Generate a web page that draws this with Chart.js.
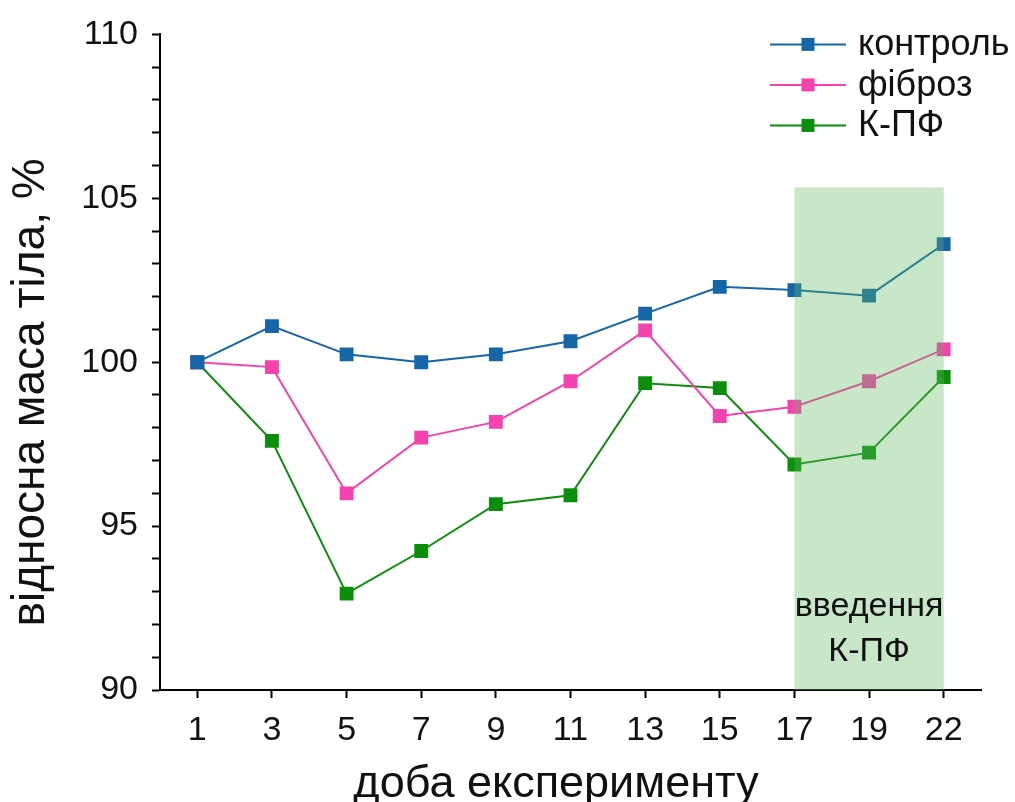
<!DOCTYPE html>
<html>
<head>
<meta charset="utf-8">
<script src="https://cdn.jsdelivr.net/npm/chart.js@4"></script>
<style>
  html, body { margin: 0; padding: 0; background: #fff; }
  #wrap { width: 1015px; height: 802px; }
</style>
</head>
<body>
<div id="wrap"><canvas id="chart"></canvas></div>
<script>
// days of the experiment
const days = ['1', '3', '5', '7', '9', '11', '13', '15', '17', '19', '22'];

// relative body mass, %
const control = [100, 101.1, 100.24, 100, 100.24, 100.64, 101.48, 102.3, 102.2, 102.03, 103.6];
const fibrosis = [100, 99.85, 96.0, 97.7, 98.18, 99.42, 100.97, 98.36, 98.64, 99.42, 100.39];
const kpf = [100, 97.6, 92.94, 94.24, 95.67, 95.94, 99.36, 99.21, 96.88, 97.24, 99.55];

// treatment period band
const bandFrom = '17';
const bandTo = '22';
const bandTop = 105.33;
const bandText = ['введення', 'К-ПФ'];

const xTitle = 'доба експерименту';
const yTitle = 'відносна маса тіла, %';

const FONT = '"Liberation Sans", Arial, sans-serif';

function series(label, data, color) {
  return {
    label,
    data,
    borderColor: color,
    backgroundColor: color,
    borderWidth: 2,
    pointStyle: 'rect',
    pointRadius: 9.8,
    pointBorderWidth: 0,
    pointBackgroundColor: color,
    tension: 0
  };
}

// shaded band drawn over the lines, with its caption
const bandPlugin = {
  id: 'band',
  afterDatasetsDraw(chart) {
    const { ctx, scales: { x, y } } = chart;
    const x0 = x.getPixelForValue(days.indexOf(bandFrom));
    const x1 = x.getPixelForValue(days.indexOf(bandTo));
    const y0 = y.getPixelForValue(bandTop);
    const y1 = y.getPixelForValue(y.min);
    ctx.save();
    ctx.fillStyle = 'rgba(97,183,97,0.35)';
    ctx.fillRect(x0, y0, x1 - x0, y1 - y0);
    ctx.fillStyle = '#111';
    ctx.font = '34px ' + FONT;
    ctx.textAlign = 'center';
    ctx.textBaseline = 'middle';
    const cx = (x0 + x1) / 2;
    ctx.fillText(bandText[0], cx, y1 - 83);
    ctx.fillText(bandText[1], cx, y1 - 38);
    ctx.restore();
  }
};

// legend: line with a square marker, label to the right
const legendPlugin = {
  id: 'lineLegend',
  afterDraw(chart) {
    const { ctx, chartArea } = chart;
    const lx0 = chartArea.right - 211;
    const lx1 = chartArea.right - 135;
    const tx = chartArea.right - 123;
    ctx.save();
    ctx.font = '36px ' + FONT;
    ctx.textBaseline = 'middle';
    chart.data.datasets.forEach((ds, i) => {
      const ly = chartArea.top + 10 + i * 40.5;
      ctx.strokeStyle = ds.borderColor;
      ctx.lineWidth = 2;
      ctx.beginPath();
      ctx.moveTo(lx0, ly);
      ctx.lineTo(lx1, ly);
      ctx.stroke();
      ctx.fillStyle = ds.borderColor;
      ctx.fillRect((lx0 + lx1) / 2 - 6.5, ly - 6.5, 13, 13);
      ctx.fillStyle = '#111';
      ctx.fillText(ds.label, tx, ly + 1);
    });
    ctx.restore();
  }
};

// axis titles, placed a bit off the axis centres
const titlesPlugin = {
  id: 'axisTitles',
  afterDraw(chart) {
    const { ctx, chartArea } = chart;
    ctx.save();
    ctx.fillStyle = '#111';
    ctx.textAlign = 'center';
    ctx.textBaseline = 'alphabetic';
    ctx.font = '45px ' + FONT;
    ctx.fillText(xTitle, chartArea.left + 396, 797);
    ctx.translate(44, chartArea.top + 358);
    ctx.rotate(-Math.PI / 2);
    ctx.font = '46px ' + FONT;
    ctx.fillText(yTitle, 0, 0);
    ctx.restore();
  }
};

new Chart(document.getElementById('chart'), {
  type: 'line',
  data: {
    labels: days,
    datasets: [
      series('контроль', control, '#1566a8'),
      series('фіброз', fibrosis, '#f542ac'),
      series('К-ПФ', kpf, '#0b8f0b')
    ]
  },
  options: {
    responsive: true,
    maintainAspectRatio: false,
    animation: false,
    layout: { padding: { top: 30, right: 34, left: 0, bottom: 0 } },
    plugins: {
      legend: { display: false },
      tooltip: { enabled: false }
    },
    scales: {
      x: {
        offset: true,
        border: { color: '#000', width: 2 },
        grid: {
          offset: false,
          drawOnChartArea: false,
          drawTicks: true,
          tickLength: 8,
          tickColor: '#000',
          tickWidth: 2
        },
        ticks: {
          color: '#111',
          font: { family: FONT, size: 34 },
          padding: 12,
          maxRotation: 0,
          autoSkip: false
        },
        afterFit(scale) { scale.height = 112; }
      },
      y: {
        min: 90,
        max: 110,
        border: { color: '#000', width: 2 },
        grid: {
          drawOnChartArea: false,
          drawTicks: true,
          tickLength: 8,
          tickColor: '#000',
          tickWidth: 2
        },
        ticks: {
          stepSize: 1,
          color: '#111',
          font: { family: FONT, size: 34 },
          padding: 14,
          autoSkip: false,
          callback: v => (v % 5 === 0 ? v : '')
        },
        afterFit(scale) { scale.width = 160; }
      }
    }
  },
  plugins: [bandPlugin, legendPlugin, titlesPlugin]
});
</script>
</body>
</html>
